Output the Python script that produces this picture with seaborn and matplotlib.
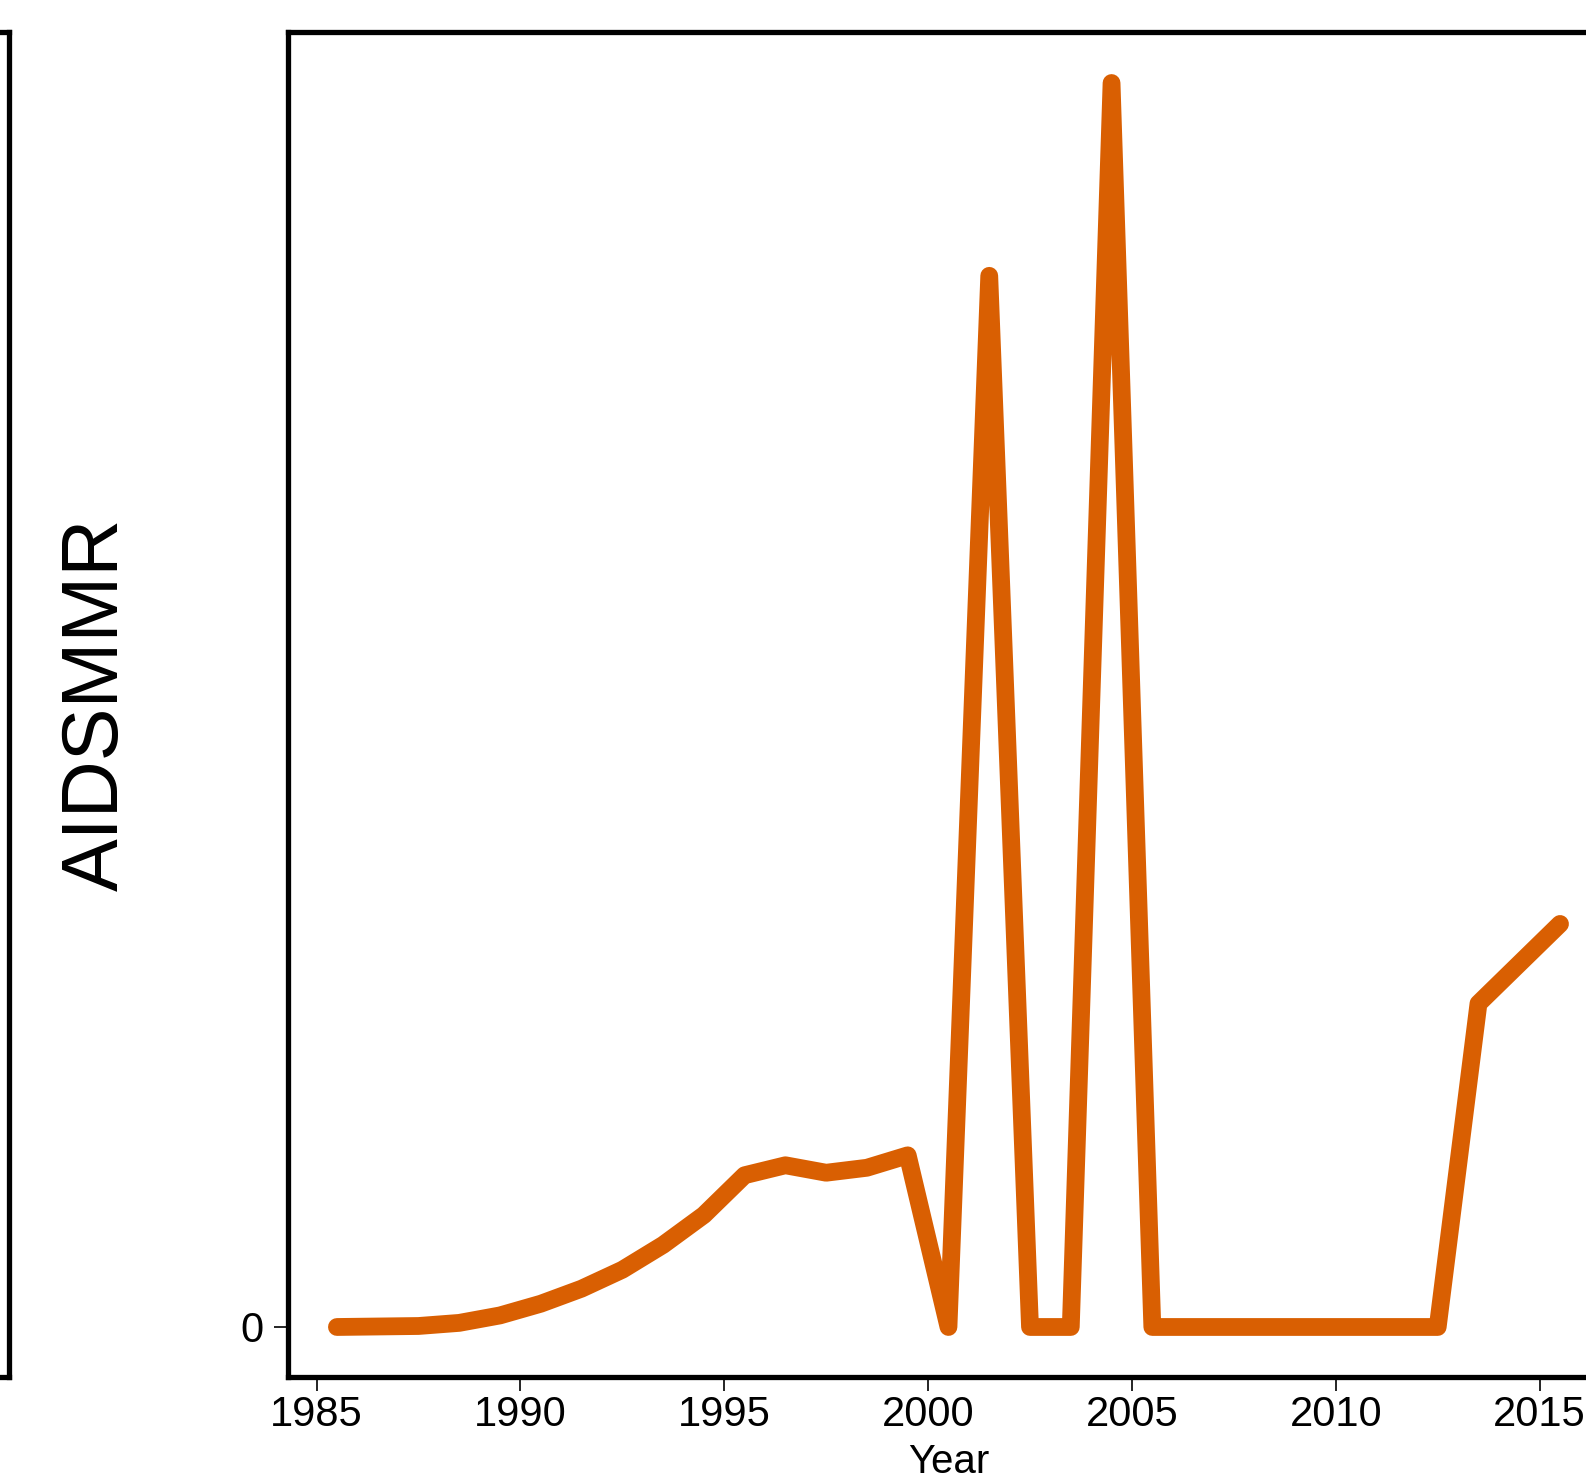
import numpy as np
import pandas as pd
import matplotlib
matplotlib.use("Agg")
import matplotlib.pyplot as plt
import seaborn as sns

# Data (mid-year points, arbitrary units; only 0 is labelled on the y axis)
years = list(range(1985, 2016))
aidsmmr = [0.0, 0.04, 0.08, 0.33, 0.93, 1.87, 3.08, 4.6, 6.6, 9.0,
           12.2, 13.0, 12.4, 12.8, 13.8, 0.0, 84.5, 0.0, 0.0, 100.0,
           0.0, 0.0, 0.0, 0.0, 0.0, 0.0, 0.0, 0.0, 26.0, 29.2, 32.4]
xtick_years = [1985, 1990, 1995, 2000, 2005, 2010, 2015]
ytick_vals = [0]

df = pd.DataFrame({"Year": np.array(years) + 0.5, "AIDSMMR": aidsmmr})

sns.set_theme(style="white")
plt.rcParams['font.family'] = ['Liberation Sans', 'DejaVu Sans']

W, H = 1586, 1481
fig = plt.figure(figsize=(W / 100, H / 100), dpi=100)

left_px, top_px, bottom_px = 288, 32, 1377
xmin, xmax = 1984.3, 2016.7
px_per_year = 40.77
width_px = (xmax - xmin) * px_per_year
ax = fig.add_axes([left_px / W, (H - bottom_px) / H, width_px / W, (bottom_px - top_px) / H])

# partial neighbouring panel on the far left (only its right frame is visible)
ax0 = fig.add_axes([-0.5, (H - bottom_px) / H, 0.5 + 9 / W, (bottom_px - top_px) / H])
ax0.set_xticks([])
ax0.set_yticks([])
for s in ax0.spines.values():
    s.set_linewidth(3.8)
    s.set_color("black")

sns.lineplot(data=df, x="Year", y="AIDSMMR", ax=ax, color="#D95F02",
             linewidth=12.8, solid_capstyle="round", solid_joinstyle="round")

ax.set_xlim(xmin, xmax)
ax.set_ylim(-4.02, 104.1)
ax.set_xticks(xtick_years)
ax.set_xticklabels([str(y) for y in xtick_years])
ax.set_yticks(ytick_vals)
ax.set_yticklabels([str(v) for v in ytick_vals])
ax.tick_params(axis="both", which="major", direction="out", length=10, width=1.2,
               color="black", labelsize=30, labelcolor="black",
               bottom=True, left=True)
ax.tick_params(axis="x", pad=3)
ax.tick_params(axis="y", pad=8)
for s in ax.spines.values():
    s.set_linewidth(3.8)
    s.set_color("black")

ax.set_xlabel("Year", fontsize=29, color="black", labelpad=6)
ax.set_ylabel("AIDSMMR", fontsize=57, color="black")
ax.yaxis.set_label_coords((135 - left_px) / width_px, 0.5)

fig.savefig("out.png", dpi=100)
